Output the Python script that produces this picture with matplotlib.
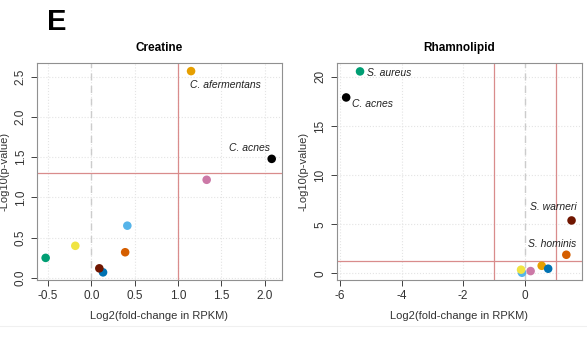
import matplotlib.pyplot as plt
import numpy as np

plt.rcParams['font.family'] = ['Liberation Sans', 'DejaVu Sans']
plt.rcParams['axes.unicode_minus'] = False

# colours per taxon (same order in both panels)
colors = ["#000000", "#E69F00", "#56B4E9", "#009E73", "#F0E442",
          "#0072B2", "#D55E00", "#CC79A7", "#701600"]

# Creatine
cr_x = [2.08, 1.15, 0.415, -0.527, -0.185, 0.135, 0.39, 1.33, 0.092]
cr_y = [1.48, 2.57, 0.65, 0.25, 0.40, 0.07, 0.32, 1.22, 0.12]
cr_labels = [("C. afermentans", 1.14, 2.40, "left"),
             ("C. acnes", 2.06, 1.61, "right")]

# Rhamnolipid
rh_x = [-5.8, 0.55, -0.09, -5.35, -0.12, 0.76, 1.35, 0.19, 1.52]
rh_y = [17.9, 0.77, 0.06, 20.55, 0.37, 0.47, 1.89, 0.23, 5.38]
rh_labels = [("S. aureus", -5.13, 20.4, "left"),
             ("C. acnes", -5.61, 17.2, "left"),
             ("S. warneri", 1.70, 6.77, "right"),
             ("S. hominis", 1.66, 2.98, "right")]

sig = -np.log10(0.05)

fig = plt.figure(figsize=(5.87, 3.39), dpi=100)
ax0 = fig.add_axes([0.063, 0.174, 0.417, 0.640])
ax1 = fig.add_axes([0.574, 0.174, 0.417, 0.640])


def style(ax, xt, yt, xl, yl, vlines):
    ax.set_xlim(xl)
    ax.set_ylim(yl)
    ax.set_xticks(xt)
    ax.set_yticks(yt)
    ax.grid(True, color="#e4e4e4", linestyle=":", linewidth=0.8)
    ax.set_axisbelow(True)
    for s in ax.spines.values():
        s.set_color("#909090")
        s.set_linewidth(0.8)
    ax.tick_params(direction="out", length=4, width=0.7, color="#404040",
                   labelsize=8.5, labelcolor="#333333")
    ax.axvline(0, color="#cccccc", linestyle=(0, (5, 4)), linewidth=1.0, zorder=1)
    for v in vlines:
        ax.axvline(v, color="#d98c8c", linewidth=0.9, zorder=1)
    ax.axhline(sig, color="#d98c8c", linewidth=0.9, zorder=1)
    ax.set_xlabel("Log2(fold-change in RPKM)", fontsize=8, color="#333333", labelpad=6)
    ax.set_ylabel("-Log10(p-value)", fontsize=8, color="#333333", labelpad=4)


style(ax0, [-0.5, 0.0, 0.5, 1.0, 1.5, 2.0], [0.0, 0.5, 1.0, 1.5, 2.0, 2.5],
      (-0.627, 2.196), (-0.025, 2.67), [1.0])
ax0.set_xticklabels(["-0.5", "0.0", "0.5", "1.0", "1.5", "2.0"])
ax0.set_yticklabels(["0.0", "0.5", "1.0", "1.5", "2.0", "2.5"])
ax0.scatter(cr_x, cr_y, c=colors, s=38, zorder=3, edgecolors="none")
for t, x, y, ha in cr_labels:
    ax0.text(x, y, t, fontsize=7.5, style="italic", ha=ha, va="center", color="#222222")
ax0.set_title("Creatine", fontsize=8.5, fontweight="bold", pad=9)

style(ax1, [-6, -4, -2, 0], [0, 5, 10, 15, 20],
      (-6.1, 1.85), (-0.68, 21.4), [-1.0, 1.0])
ax1.set_xticklabels(["-6", "-4", "-2", "0"])
ax1.set_yticklabels(["0", "5", "10", "15", "20"])
ax1.scatter(rh_x, rh_y, c=colors, s=38, zorder=3, edgecolors="none")
for t, x, y, ha in rh_labels:
    ax1.text(x, y, t, fontsize=7.5, style="italic", ha=ha, va="center", color="#222222")
ax1.set_title("Rhamnolipid", fontsize=8.5, fontweight="bold", pad=9)

for ax in (ax0, ax1):
    for lab in ax.get_yticklabels():
        lab.set_rotation(90)
        lab.set_va("center")

fig.text(0.080, 0.935, "E", fontsize=21, fontweight="bold", ha="left", va="center")
fig.add_artist(plt.Line2D([0, 1], [1 - 326 / 339] * 2, color="#f0f0f0", linewidth=0.8))

fig.savefig("out.png", dpi=100)
